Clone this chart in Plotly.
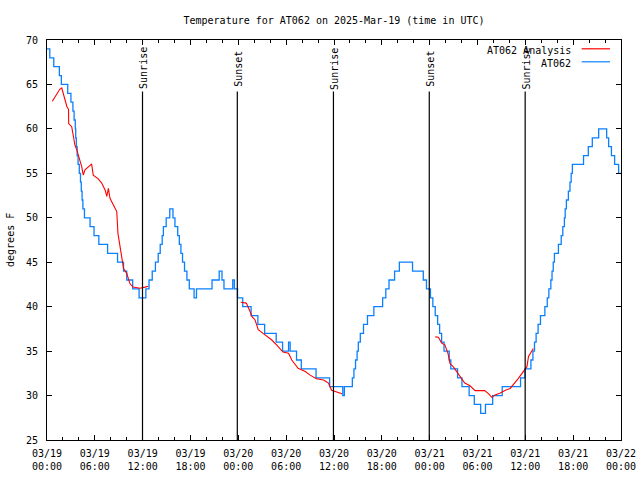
from datetime import datetime, timedelta
import plotly.graph_objects as go

# ---------------- data ----------------
start_time = datetime(2025, 3, 19, 0, 0)

# AT062 observations (hours after 03/19 00:00 UTC, value in F; step changes)
obs_hours = [0.0, 0.35, 0.85, 1.55, 1.8, 2.6, 3.0, 3.25, 3.4, 3.55, 3.6, 3.68, 3.78, 3.9,
             4.05, 4.2, 4.3, 4.4, 4.5, 4.7, 4.95, 5.4, 5.9, 6.5, 7.6, 8.85, 9.6, 10.0,
             10.75, 11.55, 12.4, 12.8, 13.2, 13.6, 13.95, 14.2, 14.45, 14.6, 14.95, 15.4,
             15.8, 16.05, 16.4, 16.6, 16.8, 17.0, 17.25, 17.55, 17.85, 18.45, 18.75, 20.7,
             21.6, 21.95, 22.2, 23.3, 23.5, 23.9, 24.55, 25.6, 26.45, 27.3, 28.75, 29.55,
             30.3, 30.5, 31.3, 31.9, 33.75, 35.45, 37.1, 37.3, 38.3, 38.5, 38.7, 38.9, 39.05,
             39.3, 39.7, 40.2, 41.0, 42.1, 42.5, 42.9, 43.6, 44.2, 45.85, 47.2, 47.6, 48.1,
             48.4, 48.7, 49.0, 49.25, 49.5, 49.8, 50.45, 50.65, 51.5, 52.05, 52.95, 53.6,
             54.4, 55.0, 55.9, 57.1, 59.4, 59.95, 60.7, 60.95, 61.15, 61.35, 61.6, 61.9,
             62.45, 62.75, 62.95, 63.2, 63.35, 63.5, 63.65, 64.15, 64.5, 64.7, 64.9, 65.0,
             65.15, 65.4, 65.6, 65.75, 65.9, 67.3, 67.9, 68.4, 69.2, 70.2, 70.45, 70.8,
             71.2, 71.7, 72.0]
obs_temps = [69, 68, 67, 66, 65, 64, 63, 62, 61, 60, 59, 58, 57, 56,
             55, 54, 53, 52, 51, 50, 50, 49, 48, 47, 46, 45, 44, 43,
             42, 41, 42, 43, 44, 45, 46, 47, 48, 49, 50, 51,
             50, 49, 48, 47, 46, 45, 44, 43, 42, 41, 42, 43,
             44, 43, 42, 43, 42, 41, 40, 39, 38, 37, 36, 35,
             36, 35, 34, 33, 32, 31, 30, 31, 32, 33, 34, 35, 36,
             37, 38, 39, 40, 41, 42, 43, 44, 45, 44, 43, 42, 41,
             40, 39, 38, 37, 36, 35, 34, 33, 32, 31, 30, 29,
             28, 29, 30, 31, 32, 33, 34, 35, 36, 37, 38, 39,
             40, 41, 42, 43, 44, 45, 46, 47, 48, 49, 50, 51,
             52, 53, 54, 55, 56, 57, 58, 59, 60, 59, 58, 57,
             56, 55, 55]

# AT062 Analysis (three separate pieces)
ana1_hours = [0.67, 1.2, 1.6, 1.85, 2.05, 2.5, 2.7, 2.72, 3.1, 3.3, 3.5, 3.75, 4.1, 4.35,
              4.55, 4.77, 5.4, 5.6, 5.8, 6.4, 6.86, 7.3, 7.5, 7.7, 7.9, 8.3, 8.75, 8.9,
              9.2, 9.4, 9.6, 10.0, 10.4, 10.8, 11.67, 12.3, 12.7]
ana1_temps = [63.1, 63.8, 64.45, 64.6, 64.0, 62.5, 62.2, 60.6, 60.25, 59.1, 58.2, 57.6, 56.5, 55.75,
              54.8, 55.4, 55.9, 56.05, 54.8, 54.4, 53.9, 53.1, 52.4, 53.3, 52.2, 51.4, 50.7, 48.25,
              46.75, 45.6, 44.3, 43.75, 42.6, 42.2, 42.07, 42.2, 42.3]
ana2_hours = [24.3, 25.0, 25.5, 25.7, 26.1, 26.5, 27.1, 27.75, 28.2, 28.8, 29.2, 29.6, 30.3,
              30.7, 31.5, 32.4, 33.0, 33.8, 34.7, 35.3, 35.7, 36.3, 36.75, 37.0]
ana2_temps = [40.5, 40.4, 39.4, 38.9, 38.5, 37.4, 37.0, 36.6, 36.25, 35.7, 35.3, 34.9, 34.75,
              34.0, 33.06, 32.7, 32.3, 31.9, 31.75, 31.4, 30.6, 30.4, 30.25, 30.2]
ana3_hours = [48.7, 49.1, 49.5, 49.9, 50.3, 50.55, 50.95, 51.4, 52.0, 52.4, 53.06, 53.7, 54.9,
              55.4, 55.8, 56.2, 56.8, 57.5, 58.1, 58.7, 59.1, 59.75, 60.2, 60.4, 60.8, 61.0]
ana3_temps = [36.6, 36.55, 35.9, 35.7, 34.75, 33.6, 33.25, 32.7, 31.9, 31.4, 31.1, 30.55, 30.55,
              30.2, 29.8, 30.06, 30.25, 30.6, 30.8, 31.4, 31.9, 32.7, 33.25, 34.4, 35.1, 35.3]

# Sun events
sun_hours = [11.98, 23.87, 35.93, 47.95, 59.98]
sun_labels = ["Sunrise", "Sunset", "Sunrise", "Sunset", "Sunrise"]
sun_line_top = 64.2
sun_label_center = 66.8

# Axis ticks
x_tick_hours = [0, 6, 12, 18, 24, 30, 36, 42, 48, 54, 60, 66, 72]
x_tick_labels = ["03/19<br>00:00", "03/19<br>06:00", "03/19<br>12:00", "03/19<br>18:00",
                 "03/20<br>00:00", "03/20<br>06:00", "03/20<br>12:00", "03/20<br>18:00",
                 "03/21<br>00:00", "03/21<br>06:00", "03/21<br>12:00", "03/21<br>18:00",
                 "03/22<br>00:00"]
y_min, y_max = 25, 70

RED = "#ff0000"
BLUE = "#0a80ff"
FONT = "DejaVu Sans Mono"


def to_time(hours):
    return [None if h is None else start_time + timedelta(hours=h) for h in hours]


fig = go.Figure()

ana_hours = ana1_hours + [None] + ana2_hours + [None] + ana3_hours
ana_temps = ana1_temps + [None] + ana2_temps + [None] + ana3_temps

fig.add_trace(go.Scatter(x=to_time(obs_hours), y=obs_temps, mode="lines",
                         line=dict(color=BLUE, width=1.3, shape="hv"),
                         name="AT062", showlegend=False))
fig.add_trace(go.Scatter(x=to_time(ana_hours), y=ana_temps, mode="lines",
                         line=dict(color=RED, width=1.1), connectgaps=False,
                         name="AT062 Analysis", showlegend=False))

for h, lab in zip(sun_hours, sun_labels):
    t = start_time + timedelta(hours=h)
    fig.add_shape(type="line", xref="x", yref="y", x0=t, x1=t, y0=y_min, y1=sun_line_top,
                  line=dict(color="black", width=1.2))
    fig.add_annotation(x=t, y=sun_label_center, xref="x", yref="y", text=lab,
                       textangle=-90, showarrow=False, xanchor="center", yanchor="middle",
                       xshift=1, font=dict(family=FONT, size=10, color="black"))

# manual legend (gnuplot style: text then sample)
legend_items = [("AT062 Analysis", RED, 0.975), ("AT062", BLUE, 0.9425)]
for txt, col, yp in legend_items:
    fig.add_annotation(x=0.917, y=yp, xref="paper", yref="paper", text=txt, showarrow=False,
                       xanchor="right", yanchor="middle",
                       font=dict(family=FONT, size=10, color="black"))
    fig.add_shape(type="line", xref="paper", yref="paper", x0=0.9315, x1=0.9808,
                  y0=yp + 0.003, y1=yp + 0.003, line=dict(color=col, width=1.2))

# y axis label
fig.add_annotation(x=-0.0645, y=0.5, xref="paper", yref="paper", text="degrees F",
                   textangle=-90, showarrow=False, xanchor="center", yanchor="middle",
                   font=dict(family=FONT, size=10, color="black"))

fig.update_layout(
    width=640, height=480,
    margin=dict(l=47, r=19, t=40, b=40, autoexpand=False),
    paper_bgcolor="white", plot_bgcolor="white",
    title=dict(text="Temperature for AT062 on 2025-Mar-19 (time in UTC)",
               x=0.5, xref="paper", xanchor="center", y=1 - 20 / 480, yanchor="middle",
               font=dict(family=FONT, size=10, color="black")),
    font=dict(family=FONT, size=10, color="black"),
    showlegend=False,
)
fig.update_xaxes(
    type="date", range=[start_time, start_time + timedelta(hours=72)],
    tickmode="array", tickvals=to_time(x_tick_hours), ticktext=x_tick_labels,
    ticks="inside", ticklen=5, tickwidth=1, tickcolor="black",
    showline=True, linecolor="black", linewidth=1, mirror="ticks",
    showgrid=False, zeroline=False, ticklabelstandoff=4, automargin=False,
    tickfont=dict(family=FONT, size=10, color="black"),
    minor=dict(dtick=2 * 3600 * 1000, ticks="inside", ticklen=3, tickcolor="black",
               showgrid=False),
)
fig.update_yaxes(
    range=[y_min, y_max], tick0=25, dtick=5,
    ticks="inside", ticklen=5, tickwidth=1, tickcolor="black",
    showline=True, linecolor="black", linewidth=1, mirror="ticks",
    showgrid=False, zeroline=False, ticklabelstandoff=6, automargin=False,
    tickfont=dict(family=FONT, size=10, color="black"),
)

fig.write_html("out.html", config={"displayModeBar": False},
               post_script="document.body.style.margin='0';document.body.style.overflow='hidden';")
